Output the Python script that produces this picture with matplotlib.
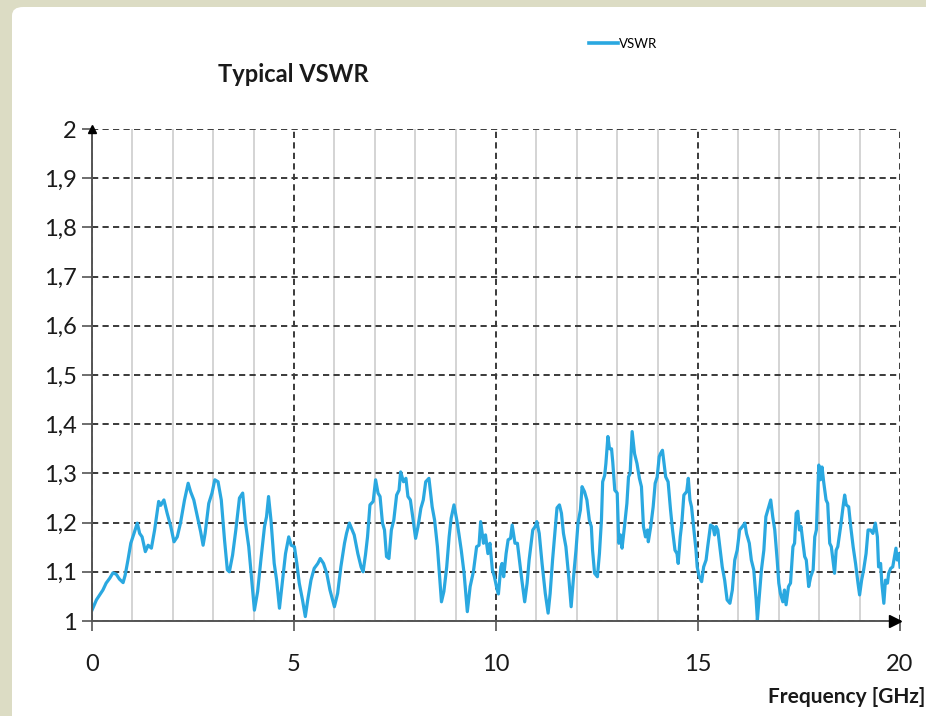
import matplotlib
matplotlib.use("Agg")
import matplotlib.pyplot as plt
from matplotlib.patches import FancyBboxPatch, Rectangle
from matplotlib.lines import Line2D
from matplotlib.ticker import MultipleLocator, FuncFormatter

# Measured VSWR versus frequency
freq_ghz = [
    0.00, 0.11, 0.19, 0.27, 0.35, 0.44, 0.52, 0.60, 0.68, 0.77, 0.82, 0.89, 0.96,
    1.04, 1.12, 1.18, 1.24, 1.32, 1.39, 1.47, 1.55, 1.65, 1.70, 1.78, 1.86, 1.95,
    2.03, 2.11, 2.19, 2.29, 2.38, 2.44, 2.52, 2.61, 2.69, 2.75, 2.80, 2.89, 2.97,
    3.04, 3.12, 3.20, 3.28, 3.35, 3.40, 3.48, 3.56, 3.65, 3.73, 3.79, 3.88, 3.96,
    4.02, 4.10, 4.18, 4.27, 4.32, 4.37, 4.43, 4.51, 4.57, 4.64, 4.70, 4.79, 4.87,
    4.93, 5.01, 5.07, 5.13, 5.21, 5.28, 5.34, 5.42, 5.50, 5.59, 5.65, 5.73, 5.81,
    5.89, 6.00, 6.08, 6.16, 6.25, 6.30, 6.37, 6.44, 6.49, 6.58, 6.66, 6.71, 6.77,
    6.82, 6.88, 6.96, 7.02, 7.08, 7.13, 7.19, 7.24, 7.29, 7.35, 7.41, 7.47, 7.54,
    7.60, 7.64, 7.71, 7.77, 7.82, 7.88, 7.95, 8.01, 8.07, 8.14, 8.20, 8.26, 8.34,
    8.42, 8.48, 8.55, 8.61, 8.65, 8.71, 8.78, 8.84, 8.89, 8.96, 9.03, 9.08, 9.14,
    9.21, 9.29, 9.36, 9.44, 9.52, 9.58, 9.62, 9.69, 9.74, 9.80, 9.85, 9.91, 9.96,
    10.03, 10.06, 10.12, 10.15, 10.19, 10.25, 10.30, 10.36, 10.40, 10.47, 10.53,
    10.58, 10.64, 10.71, 10.77, 10.82, 10.91, 10.97, 11.01, 11.07, 11.14, 11.22,
    11.29, 11.34, 11.40, 11.47, 11.51, 11.57, 11.62, 11.67, 11.73, 11.80, 11.86,
    11.92, 11.98, 12.03, 12.09, 12.13, 12.19, 12.25, 12.31, 12.36, 12.39, 12.44,
    12.51, 12.56, 12.61, 12.64, 12.69, 12.72, 12.77, 12.81, 12.86, 12.89, 12.94,
    13.00, 13.04, 13.08, 13.12, 13.18, 13.24, 13.28, 13.32, 13.37, 13.43, 13.49,
    13.55, 13.60, 13.65, 13.70, 13.75, 13.77, 13.83, 13.89, 13.94, 13.99, 14.04,
    14.07, 14.12, 14.15, 14.20, 14.26, 14.32, 14.37, 14.43, 14.48, 14.51, 14.56,
    14.60, 14.65, 14.72, 14.76, 14.80, 14.84, 14.90, 14.95, 14.98, 15.03, 15.09,
    15.14, 15.20, 15.24, 15.31, 15.37, 15.41, 15.45, 15.49, 15.54, 15.60, 15.66,
    15.72, 15.79, 15.85, 15.91, 15.97, 16.03, 16.10, 16.16, 16.20, 16.27, 16.32,
    16.38, 16.44, 16.47, 16.51, 16.57, 16.63, 16.68, 16.73, 16.80, 16.85, 16.90,
    16.96, 17.00, 17.04, 17.10, 17.14, 17.18, 17.24, 17.29, 17.35, 17.39, 17.43,
    17.47, 17.51, 17.55, 17.59, 17.64, 17.68, 17.74, 17.79, 17.85, 17.89, 17.93,
    17.97, 17.99, 18.03, 18.07, 18.11, 18.17, 18.21, 18.26, 18.30, 18.34, 18.38,
    18.42, 18.46, 18.53, 18.59, 18.63, 18.67, 18.73, 18.78, 18.84, 18.90, 18.96,
    19.00, 19.05, 19.10, 19.16, 19.21, 19.27, 19.33, 19.39, 19.44, 19.47, 19.52,
    19.55, 19.60, 19.64, 19.69, 19.72, 19.77, 19.82, 19.90, 19.93, 19.97, 20.00,
]
vswr = [
    1.022, 1.043, 1.053, 1.063, 1.077, 1.087, 1.098, 1.095, 1.085, 1.078, 1.093, 1.124, 1.158,
    1.178, 1.199, 1.178, 1.171, 1.141, 1.154, 1.148, 1.185, 1.243, 1.235, 1.246, 1.219, 1.192,
    1.161, 1.171, 1.199, 1.246, 1.280, 1.263, 1.246, 1.212, 1.181, 1.154, 1.178, 1.239, 1.260,
    1.287, 1.283, 1.246, 1.165, 1.104, 1.100, 1.134, 1.185, 1.250, 1.260, 1.205, 1.151, 1.077,
    1.022, 1.060, 1.124, 1.192, 1.212, 1.253, 1.205, 1.117, 1.083, 1.026, 1.070, 1.137, 1.171,
    1.154, 1.151, 1.117, 1.077, 1.043, 1.009, 1.043, 1.083, 1.107, 1.117, 1.127, 1.117, 1.097,
    1.063, 1.029, 1.056, 1.110, 1.158, 1.178, 1.199, 1.185, 1.175, 1.137, 1.110, 1.100, 1.135,
    1.171, 1.236, 1.243, 1.287, 1.260, 1.253, 1.199, 1.185, 1.131, 1.127, 1.185, 1.205, 1.256,
    1.266, 1.303, 1.283, 1.290, 1.253, 1.246, 1.205, 1.168, 1.192, 1.229, 1.246, 1.283, 1.290,
    1.232, 1.205, 1.151, 1.083, 1.039, 1.060, 1.110, 1.171, 1.209, 1.236, 1.205, 1.178, 1.144,
    1.097, 1.019, 1.070, 1.100, 1.151, 1.154, 1.202, 1.158, 1.175, 1.137, 1.158, 1.104, 1.090,
    1.063, 1.055, 1.110, 1.117, 1.090, 1.137, 1.165, 1.168, 1.195, 1.158, 1.158,
    1.124, 1.083, 1.039, 1.077, 1.124, 1.185, 1.192, 1.202, 1.178, 1.117, 1.056,
    1.016, 1.056, 1.124, 1.192, 1.230, 1.236, 1.219, 1.178, 1.151, 1.090, 1.029,
    1.090, 1.144, 1.199, 1.226, 1.273, 1.263, 1.246, 1.205, 1.192, 1.144, 1.097,
    1.090, 1.137, 1.205, 1.283, 1.296, 1.320, 1.375, 1.350, 1.350, 1.323, 1.266,
    1.260, 1.158, 1.175, 1.148, 1.192, 1.239, 1.293, 1.300, 1.385, 1.340, 1.320,
    1.290, 1.273, 1.192, 1.171, 1.185, 1.161, 1.192, 1.232, 1.280, 1.293, 1.334,
    1.340, 1.347, 1.327, 1.293, 1.283, 1.226, 1.185, 1.144, 1.137, 1.117, 1.171,
    1.199, 1.256, 1.263, 1.290, 1.246, 1.232, 1.185, 1.144, 1.110, 1.090, 1.080,
    1.110, 1.124, 1.151, 1.195, 1.192, 1.175, 1.192, 1.185, 1.151, 1.110, 1.083,
    1.043, 1.036, 1.063, 1.124, 1.144, 1.185, 1.192, 1.199, 1.178, 1.158, 1.124,
    1.104, 1.043, 1.002, 1.043, 1.104, 1.144, 1.212, 1.226, 1.246, 1.212, 1.185,
    1.124, 1.077, 1.056, 1.039, 1.063, 1.033, 1.070, 1.077, 1.151, 1.158, 1.219,
    1.223, 1.185, 1.192, 1.165, 1.131, 1.124, 1.070, 1.090, 1.104, 1.171, 1.185,
    1.273, 1.317, 1.287, 1.313, 1.283, 1.246, 1.239, 1.158, 1.151, 1.124, 1.097,
    1.144, 1.151, 1.192, 1.232, 1.256, 1.236, 1.232, 1.192, 1.151, 1.117, 1.077,
    1.053, 1.083, 1.104, 1.137, 1.185, 1.185, 1.178, 1.199, 1.171, 1.110, 1.117,
    1.077, 1.036, 1.083, 1.077, 1.097, 1.107, 1.110, 1.148, 1.124, 1.137, 1.110,
]

series_label = "VSWR"
title_text = "Typical VSWR"
xlabel_text = "Frequency [GHz]"

W, H = 926, 716
BEIGE = "#dcdcc4"
BLUE = "#2aa8e0"
GRID_DARK = "#3a3a3a"
GRID_LIGHT = "#d4d4d4"
FONT = ["Lato", "DejaVu Sans"]

plt.rcParams["font.family"] = FONT

fig = plt.figure(figsize=(W / 100, H / 100), dpi=100)
fig.patch.set_facecolor(BEIGE)

# white panel: rounded top-left corner, square continuation to the right edge
panel_corner = FancyBboxPatch((12 / W, -0.1), 0.3, (H - 7) / H + 0.1,
                              boxstyle="round,pad=0,rounding_size=0.012",
                              transform=fig.transFigure, facecolor="white",
                              edgecolor="none", zorder=-10)
panel_body = Rectangle((0.2, -0.1), 1.0, (H - 7) / H + 0.1,
                       transform=fig.transFigure, facecolor="white",
                       edgecolor="none", zorder=-10)
fig.patches.extend([panel_corner, panel_body])

ax = fig.add_axes([92 / W, (H - 621) / H, 808 / W, 492 / H])
ax.set_zorder(1)
ax.set_facecolor("none")
ax.set_xlim(0, 20)
ax.set_ylim(1, 2)

ax.xaxis.set_major_locator(MultipleLocator(5))
ax.xaxis.set_minor_locator(MultipleLocator(1))
ax.yaxis.set_major_locator(MultipleLocator(0.1))


def comma_fmt(v, _pos):
    s = f"{v:.1f}".replace(".", ",")
    if s.endswith(",0"):
        s = s[:-2]
    return s


ax.yaxis.set_major_formatter(FuncFormatter(comma_fmt))

ax.grid(which="minor", axis="x", color=GRID_LIGHT, lw=1.4, zorder=1)
ax.grid(which="major", axis="both", color=GRID_DARK, lw=1.4,
        linestyle=(0, (3.2, 2.2)), zorder=2)
ax.set_axisbelow(True)

ax.plot(freq_ghz, vswr, color=BLUE, lw=2.3, label=series_label, zorder=3,
        solid_joinstyle="round")

for side in ("top", "right"):
    ax.spines[side].set_visible(False)
for side in ("left", "bottom"):
    ax.spines[side].set_color("#555555")
    ax.spines[side].set_linewidth(1.4)
    ax.spines[side].set_zorder(4)

# arrow heads at the ends of the axes
ax.plot([0], [2], marker="^", color="black", markersize=6, clip_on=False, zorder=5)
ax.plot([19.87], [1], marker=">", color="black", markersize=8, clip_on=False, zorder=5)

ax.tick_params(axis="x", which="major", length=7, width=1.2, color="#555555",
               labelsize=17, pad=17)
ax.tick_params(axis="x", which="minor", length=0)
ax.tick_params(axis="y", which="major", length=7, width=1.2, color="#555555",
               labelsize=17, pad=4)
for lbl in ax.get_xticklabels() + ax.get_yticklabels():
    lbl.set_color("#1a1a1a")

fig.text(218 / W, 1 - 75 / H, title_text, fontsize=17, fontweight="bold",
         ha="left", va="center", color="#1a1a1a")
fig.text(925 / W, 1 - 697 / H, xlabel_text, fontsize=15, fontweight="bold",
         ha="right", va="center", color="#1a1a1a")

handle = Line2D([], [], color=BLUE, lw=2.6)
fig.legend([handle], [series_label], loc="center left",
           bbox_to_anchor=(589 / W, 1 - 44 / H), frameon=False, fontsize=9.5,
           handlelength=2.2, handletextpad=0.1, borderpad=0, borderaxespad=0)

fig.savefig("out.png", dpi=100, facecolor=fig.get_facecolor())
